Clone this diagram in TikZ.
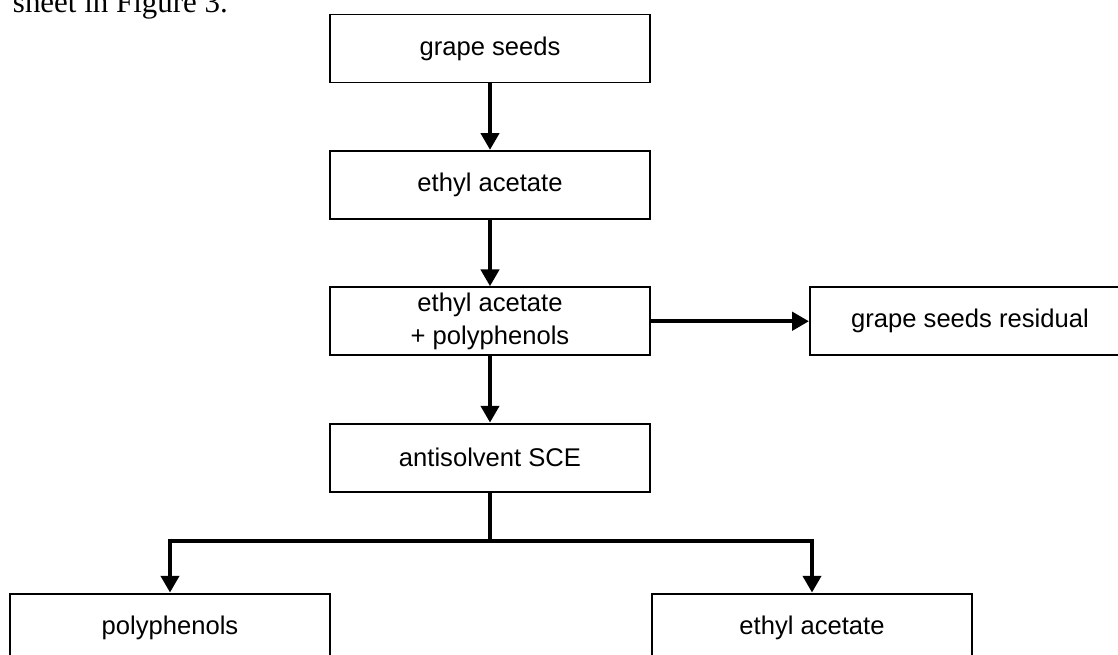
\documentclass[tikz,border=0pt]{standalone}
\usepackage{fontspec}
\setmainfont{Liberation Sans}
\newfontfamily\bodyserif{Liberation Serif}
\usepackage{tikz}
\usetikzlibrary{positioning,arrows.meta}

\begin{document}
\begin{tikzpicture}[node distance=1.66cm, >={Triangle[length=4.2mm,width=4.5mm]},
  every node/.style={draw,line width=1.4pt,align=center,minimum width=8cm,minimum height=1.7cm,font=\fontsize{18.2}{23.4}\selectfont}]
\useasboundingbox (0,0) rectangle (27.95,-16.375);
\clip (0,0) rectangle (27.95,-16.375);
\node[draw=none,anchor=base west,inner sep=0pt,minimum width=0pt,minimum height=0pt,font=\bodyserif\fontsize{22}{26}\selectfont] (txt) at (0.3,-0.32) {sheet in Figure 3.};
\node (gs) at (12.25,-1.2125) {grape seeds};
\node[below=of gs] (ea) {ethyl acetate};
\node[below=of ea] (eap) {ethyl acetate\\+ polyphenols};
\node[right=3.95cm of eap] (res) {grape seeds residual};
\node[below=of eap] (sce) {antisolvent SCE};
\node[below=2.5cm of sce, xshift=-8cm] (pp) {polyphenols};
\node[below=2.5cm of sce, xshift=8.05cm] (ea2) {ethyl acetate};
\coordinate (split) at ([yshift=-1.22cm]sce.south);
\draw[->,line width=2.9pt] (gs) -- (ea);
\draw[->,line width=2.9pt] (ea) -- (eap);
\draw[->,line width=2.9pt] (eap) -- (res);
\draw[->,line width=2.9pt] (eap) -- (sce);
\draw[line width=2.9pt] (sce) -- (split);
\draw[->,line width=2.9pt] (split) -| (pp);
\draw[->,line width=2.9pt] (split) -| (ea2);
\end{tikzpicture}
\end{document}
